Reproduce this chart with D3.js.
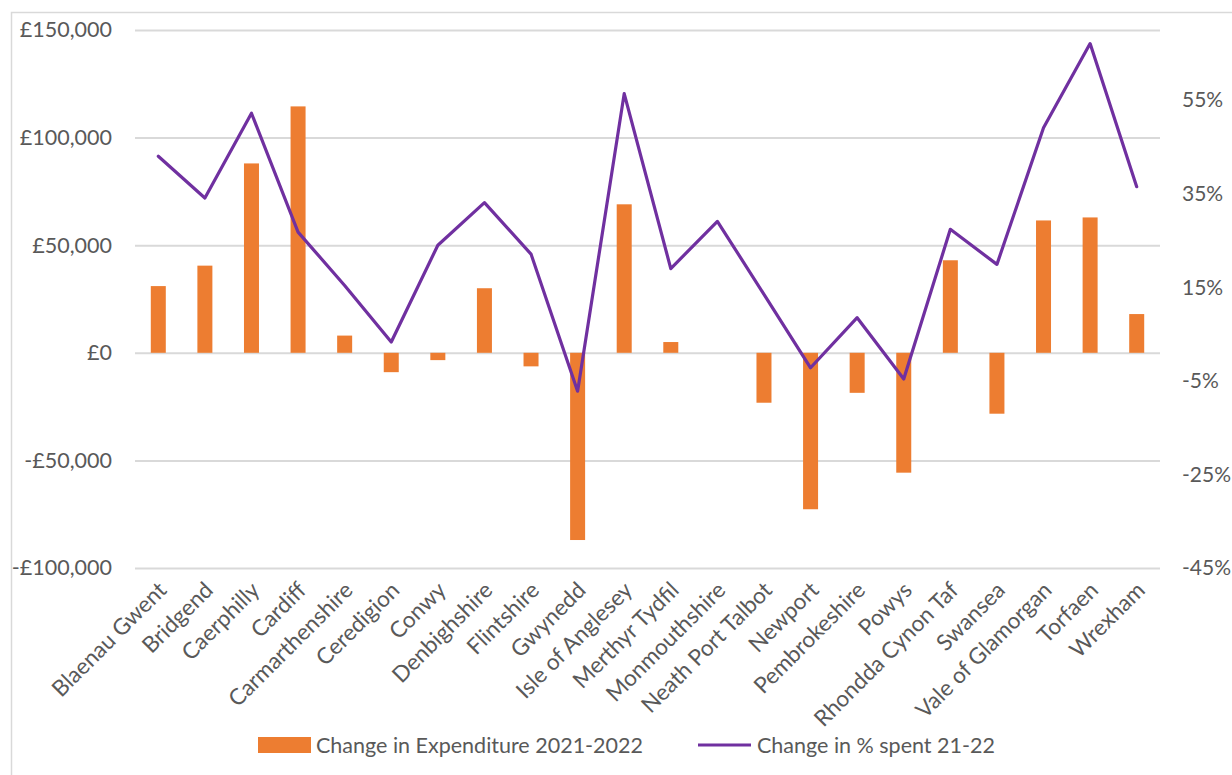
<!DOCTYPE html>
<html>
<head>
<meta charset="utf-8">
<script src="https://cdn.jsdelivr.net/npm/d3@7"></script>
<style>
  html, body { margin: 0; padding: 0; background: #ffffff; }
  svg { display: block; }
  text { font-family: Lato, "Open Sans", sans-serif; fill: #595959; }
</style>
</head>
<body>
<svg id="chart" width="1232" height="775"></svg>
<script>
// Local authorities
const categories = [
  "Blaenau Gwent", "Bridgend", "Caerphilly", "Cardiff", "Carmarthenshire",
  "Ceredigion", "Conwy", "Denbighshire", "Flintshire", "Gwynedd",
  "Isle of Anglesey", "Merthyr Tydfil", "Monmouthshire", "Neath Port Talbot",
  "Newport", "Pembrokeshire", "Powys", "Rhondda Cynon Taf", "Swansea",
  "Vale of Glamorgan", "Torfaen", "Wrexham"
];

// Change in expenditure 2021-2022 (£)
const expenditureChange = [
  31000, 40500, 88000, 114500, 8000,
  -9000, -3400, 30000, -6300, -87000,
  69000, 5000, 0, -23200,
  -72700, -18600, -55700, 43000, -28300,
  61500, 62900, 18000
];

// Change in % spent 21-22
const percentChange = [
  0.430, 0.341, 0.522, 0.268, 0.154,
  0.033, 0.240, 0.331, 0.221, -0.072,
  0.564, 0.190, 0.291, 0.135,
  -0.022, 0.085, -0.046, 0.274, 0.199,
  0.491, 0.671, 0.365
];

const leftTicks = [150000, 100000, 50000, 0, -50000, -100000];
const rightTicks = [0.55, 0.35, 0.15, -0.05, -0.25, -0.45];

const seriesNames = ["Change in Expenditure 2021-2022", "Change in % spent 21-22"];
const colors = { bar: "#ED7D31", line: "#7030A0", grid: "#D9D9D9", text: "#595959" };

const svg = d3.select("#chart");
const plot = { left: 135, right: 1160, top: 30, bottom: 568 };
const FONT = 21.5;
const RIGHT_FONT = 21;
const CAT_FONT = 22.5;

// plain hyphen for negative numbers
const locale = d3.formatLocale({
  decimal: ".", thousands: ",", grouping: [3], currency: ["£", ""], minus: "-"
});

// chart area frame
svg.append("rect")
  .attr("x", 11.5).attr("y", 12.5)
  .attr("width", 1300).attr("height", 900)
  .attr("fill", "none").attr("stroke", colors.grid).attr("stroke-width", 1.5);

const x = d3.scaleBand()
  .domain(categories)
  .range([plot.left, plot.right])
  .paddingInner(0.678)
  .paddingOuter(0.339);

const y = d3.scaleLinear().domain([-100000, 150000]).range([plot.bottom, plot.top]);
const y2 = d3.scaleLinear().domain([-0.45, 0.70]).range([plot.bottom, plot.top]);

const money = v => (v < 0 ? "-£" : "£") + locale.format(",")(Math.abs(v));

// gridlines + left axis
const leftAxis = d3.axisLeft(y)
  .tickValues(leftTicks)
  .tickSize(-(plot.right - plot.left))
  .tickPadding(23)
  .tickFormat(money);

const gL = svg.append("g")
  .attr("transform", `translate(${plot.left},0)`)
  .call(leftAxis);
gL.select(".domain").remove();
gL.selectAll(".tick line").attr("stroke", colors.grid).attr("stroke-width", 2);
gL.selectAll(".tick text")
  .attr("font-size", FONT).attr("fill", colors.text)
  .style("font-family", "Lato, sans-serif");

// right axis (secondary)
const rightAxis = d3.axisRight(y2)
  .tickValues(rightTicks)
  .tickSize(0)
  .tickPadding(22)
  .tickFormat(locale.format(".0%"));

const gR = svg.append("g")
  .attr("transform", `translate(${plot.right},0)`)
  .call(rightAxis);
gR.select(".domain").remove();
gR.selectAll(".tick text")
  .attr("font-size", RIGHT_FONT).attr("fill", colors.text)
  .style("font-family", "Lato, sans-serif");

// bars
svg.append("g").selectAll("rect")
  .data(categories)
  .join("rect")
  .attr("x", d => x(d))
  .attr("width", x.bandwidth())
  .attr("y", (d, i) => Math.min(y(expenditureChange[i]), y(0)))
  .attr("height", (d, i) => Math.abs(y(expenditureChange[i]) - y(0)))
  .attr("fill", colors.bar);

// line
const line = d3.line()
  .x((d, i) => x(categories[i]) + x.bandwidth() / 2)
  .y(d => y2(d));

svg.append("path")
  .datum(percentChange)
  .attr("d", line)
  .attr("fill", "none")
  .attr("stroke", colors.line)
  .attr("stroke-width", 3.2)
  .attr("stroke-linejoin", "round")
  .attr("stroke-linecap", "round");

// category labels
const bottomAxis = d3.axisBottom(x).tickSize(0).tickPadding(0);
const gB = svg.append("g")
  .attr("transform", `translate(0,${plot.bottom})`)
  .call(bottomAxis);
gB.select(".domain").remove();
gB.selectAll(".tick text")
  .attr("font-size", CAT_FONT).attr("fill", colors.text)
  .style("font-family", "Lato, sans-serif")
  .attr("text-anchor", "end")
  .attr("dy", "0.35em")
  .attr("transform", "translate(4,18) rotate(-45)");

// legend
const legend = svg.append("g");
legend.append("rect")
  .attr("x", 258).attr("y", 737).attr("width", 53).attr("height", 16)
  .attr("fill", colors.bar);
legend.append("text")
  .attr("x", 316).attr("y", 745).attr("dy", "0.35em")
  .attr("font-size", FONT).text(seriesNames[0]);
legend.append("line")
  .attr("x1", 698).attr("x2", 751).attr("y1", 745).attr("y2", 745)
  .attr("stroke", colors.line).attr("stroke-width", 3.2);
legend.append("text")
  .attr("x", 757).attr("y", 745).attr("dy", "0.35em")
  .attr("font-size", FONT).text(seriesNames[1]);
</script>
</body>
</html>
